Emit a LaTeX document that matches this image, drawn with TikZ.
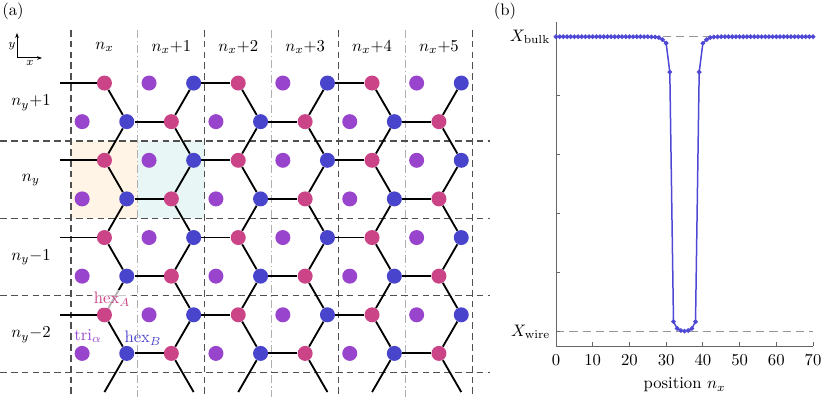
\documentclass[tikz,border=0pt]{standalone}
\usepackage{amsmath}
\usetikzlibrary{arrows.meta}
\definecolor{hexA}{RGB}{204,68,136}
\definecolor{hexB}{RGB}{72,68,204}
\definecolor{triC}{RGB}{153,68,204}
\definecolor{cellorange}{RGB}{255,244,229}
\definecolor{cellteal}{RGB}{233,246,246}
\definecolor{gridgray}{RGB}{80,80,80}
\definecolor{midgray}{RGB}{175,175,175}
\definecolor{refgray}{RGB}{150,150,150}
\definecolor{curveblue}{RGB}{78,72,212}
\tikzset{
  latsite/.style={circle, inner sep=0pt, minimum size=9pt},
  latbond/.style={line width=1.1pt},
  celledge/.style={gridgray, line width=0.8pt, dash pattern=on 4pt off 2.5pt},
  cellmid/.style={midgray, line width=0.7pt, dash pattern=on 5pt off 1.5pt on 1pt off 1.5pt},
  refline/.style={refgray, line width=0.7pt, dash pattern=on 5pt off 3pt},
  axisline/.style={black!60, line width=0.5pt},
  wireplot/.style={curveblue, line width=0.9pt, mark=*, mark size=0.9pt},
  sitelabel/.style={fill=white, fill opacity=0.7, text opacity=1, inner sep=1pt},
}

\begin{document}
\begin{tikzpicture}[x=0.6pt, y=-0.6pt]
    \useasboundingbox (0,0) rectangle (822,397);
    % (a) lattice
    \node (labelA) at (13,11) {(a)};
    \fill[cellorange] (71,141) rectangle (137.9,218.25);
    \fill[cellteal] (137.9,141) rectangle (204.8,218.25);
    \foreach \c/\sty in {0/celledge, 1/cellmid, 2/celledge, 3/cellmid, 4/celledge, 5/cellmid, 6/celledge} {
        \draw[\sty] ({71+66.9*\c},30) -- ({71+66.9*\c},397);
    }
    \foreach \j in {0,...,3} {
        \draw[celledge] (0,{141+77.25*\j}) -- (490,{141+77.25*\j});
    }
    \foreach \c/\lab in {0/$n_x$, 1/$n_x{+}1$, 2/$n_x{+}2$, 3/$n_x{+}3$, 4/$n_x{+}4$, 5/$n_x{+}5$} {
        \node (col\c) at ({104.45+66.9*\c},47) {\lab};
    }
    \foreach \r/\lab in {0/$n_y{+}1$, 1/$n_y$, 2/$n_y{-}1$, 3/$n_y{-}2$} {
        \node (row\r) at (31,{103+77.25*\r}) {\lab};
    }
    \foreach \r in {0,...,3} {
        \foreach \k in {0,1,2} {
            \node[latsite, fill=hexA] (At-\r-\k) at ({104.45+133.8*\k},{83.05+77.25*\r}) {};
            \node[latsite, fill=triC] (Ct-\r-\k) at ({149.05+133.8*\k},{83.05+77.25*\r}) {};
            \node[latsite, fill=hexB] (Bt-\r-\k) at ({193.65+133.8*\k},{83.05+77.25*\r}) {};
            \node[latsite, fill=triC] (Cl-\r-\k) at ({82.15+133.8*\k},{121.65+77.25*\r}) {};
            \node[latsite, fill=hexB] (Bl-\r-\k) at ({126.75+133.8*\k},{121.65+77.25*\r}) {};
            \node[latsite, fill=hexA] (Al-\r-\k) at ({171.35+133.8*\k},{121.65+77.25*\r}) {};
            \draw[latbond] (At-\r-\k) -- (Bl-\r-\k);
            \draw[latbond] (Bt-\r-\k) -- (Al-\r-\k);
            \draw[latbond] (Bl-\r-\k) -- (Al-\r-\k);
        }
        \coordinate (stub-\r) at (59.85,{83.05+77.25*\r});
        \draw[latbond] (stub-\r) -- (At-\r-0);
        \foreach \k/\kn in {0/1, 1/2} {
            \draw[latbond] (Bt-\r-\k) -- (At-\r-\kn);
        }
    }
    \foreach \r/\rn in {0/1, 1/2, 2/3} {
        \foreach \k in {0,1,2} {
            \draw[latbond] (Bl-\r-\k) -- (At-\rn-\k);
            \draw[latbond] (Al-\r-\k) -- (Bt-\rn-\k);
        }
    }
    \foreach \k in {0,1,2} {
        \coordinate (endA-\k) at ({104.45+133.8*\k},392.05);
        \coordinate (endB-\k) at ({193.65+133.8*\k},392.05);
        \draw[latbond] (Bl-3-\k) -- (endA-\k);
        \draw[latbond] (Al-3-\k) -- (endB-\k);
    }
    \node[sitelabel, text=hexA] (hexAlab) at (112,299) {hex$_A$};
    \node[text=triC] (trilab) at (88,336) {tri$_\alpha$};
    \node[text=hexB] (hexBlab) at (143,338) {hex$_B$};
    % small axes
    \coordinate (ax0) at (17,58);
    \coordinate (axY) at (17,33);
    \coordinate (axX) at (42,58);
    \draw[-{Stealth[length=3pt]}, line width=0.6pt] (ax0) -- (axY);
    \draw[-{Stealth[length=3pt]}, line width=0.6pt] (ax0) -- (axX);
    \node[font=\scriptsize] (ylab) at (12,46) {$y$};
    \node[font=\scriptsize] (xlab) at (30,63) {$x$};
    % (b) profile
    \node (labelB) at (505,11) {(b)};
    \begin{scope}[shift={(556,331.7)}, x=2.2029pt, y=177pt]
        \draw[refline] (0,1) -- (70,1);
        \draw[refline] (0,0) -- (70,0);
        \draw[axisline] (0,1.05) -- (0,-0.0485) -- (70,-0.0485);
        \foreach \v in {0,0.2,...,1} {
            \draw[axisline] (0,\v) -- ++(2.5pt,0);
        }
        \foreach \n in {0,10,...,70} {
            \draw[axisline] (\n,-0.0485) -- ++(0,2.5pt);
            \node[anchor=north, yshift=-1.5pt] (tick\n) at (\n,-0.0485) {$\n$};
        }
        \node[anchor=east] (bulk) at (0,1) {$X_{\mathrm{bulk}}$};
        \node[anchor=east] (wire) at (0,0) {$X_{\mathrm{wire}}$};
        \node (xtitle) at (35,-0.181) {position $n_x$};
        \draw[wireplot] plot[samples at={0,...,25}] (\x,1)
            -- plot coordinates {(26,0.9995) (27,0.999) (28,0.997) (29,0.99) (30,0.978) (31,0.88) (32,0.034) (33,0.011) (34,0.004) (35,0.002) (36,0.004) (37,0.011) (38,0.034) (39,0.88) (40,0.978) (41,0.99) (42,0.997) (43,0.999) (44,0.9995)}
            -- plot[samples at={45,...,70}] (\x,1);
    \end{scope}
\end{tikzpicture}
\end{document}
